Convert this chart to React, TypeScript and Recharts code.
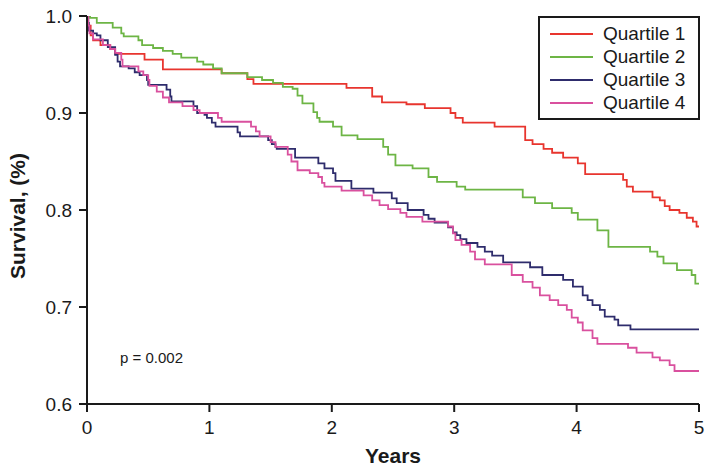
import { LineChart, Line, XAxis, YAxis, Legend } from "recharts";

// Kaplan-Meier steps: [years, survival]
const quartile1: [number, number][] = [
  [0, 1.0], [0.01, 0.99], [0.03, 0.98], [0.05, 0.975], [0.11, 0.97], [0.19, 0.966],
  [0.23, 0.961], [0.47, 0.955], [0.62, 0.945], [1.1, 0.941], [1.31, 0.935], [1.36, 0.93],
  [2.12, 0.926], [2.33, 0.917], [2.41, 0.911], [2.61, 0.909], [2.76, 0.905], [2.97, 0.9],
  [3.01, 0.895], [3.07, 0.89], [3.33, 0.886], [3.58, 0.872], [3.64, 0.868], [3.73, 0.863],
  [3.8, 0.859], [3.89, 0.854], [4.01, 0.848], [4.07, 0.837], [4.38, 0.831], [4.41, 0.824],
  [4.46, 0.819], [4.62, 0.813], [4.68, 0.81], [4.72, 0.804], [4.76, 0.8], [4.84, 0.797],
  [4.9, 0.792], [4.95, 0.788], [4.98, 0.783], [5, 0.783],
];

const quartile2: [number, number][] = [
  [0, 1.0], [0.025, 0.998], [0.08, 0.993], [0.21, 0.988], [0.28, 0.982], [0.3, 0.979],
  [0.42, 0.975], [0.45, 0.97], [0.54, 0.967], [0.62, 0.964], [0.7, 0.961], [0.77, 0.957],
  [0.9, 0.953], [0.95, 0.95], [1.03, 0.946], [1.1, 0.941], [1.31, 0.937], [1.43, 0.934],
  [1.52, 0.931], [1.6, 0.927], [1.68, 0.925], [1.72, 0.918], [1.76, 0.91], [1.85, 0.901],
  [1.88, 0.895], [1.9, 0.891], [2.01, 0.886], [2.08, 0.877], [2.21, 0.873], [2.42, 0.865],
  [2.46, 0.857], [2.52, 0.846], [2.66, 0.843], [2.79, 0.834], [2.86, 0.829], [3.02, 0.824],
  [3.09, 0.821], [3.56, 0.813], [3.66, 0.807], [3.8, 0.802], [3.96, 0.797], [4.01, 0.79],
  [4.17, 0.779], [4.26, 0.762], [4.6, 0.757], [4.66, 0.752], [4.71, 0.745], [4.82, 0.738],
  [4.94, 0.733], [4.97, 0.724], [5, 0.724],
];

const quartile3: [number, number][] = [
  [0, 1.0], [0.01, 0.993], [0.015, 0.985], [0.05, 0.982], [0.08, 0.98], [0.11, 0.975],
  [0.17, 0.968], [0.23, 0.96], [0.25, 0.953], [0.27, 0.948], [0.34, 0.946], [0.39, 0.942],
  [0.43, 0.939], [0.49, 0.934], [0.5, 0.929], [0.65, 0.924], [0.68, 0.917], [0.69, 0.912],
  [0.87, 0.907], [0.9, 0.9], [0.96, 0.898], [0.98, 0.895], [1.02, 0.89], [1.05, 0.886],
  [1.23, 0.88], [1.25, 0.876], [1.48, 0.872], [1.51, 0.868], [1.54, 0.865], [1.55, 0.863],
  [1.7, 0.854], [1.89, 0.848], [1.94, 0.843], [2.01, 0.838], [2.03, 0.83], [2.16, 0.822],
  [2.34, 0.818], [2.49, 0.812], [2.53, 0.807], [2.62, 0.8], [2.75, 0.795], [2.79, 0.791],
  [2.84, 0.787], [2.95, 0.782], [2.99, 0.777], [3.02, 0.774], [3.05, 0.77], [3.1, 0.766],
  [3.19, 0.762], [3.25, 0.757], [3.31, 0.753], [3.4, 0.746], [3.62, 0.741], [3.72, 0.733],
  [3.89, 0.728], [3.97, 0.721], [4.05, 0.712], [4.09, 0.707], [4.13, 0.702], [4.19, 0.697],
  [4.23, 0.69], [4.31, 0.687], [4.34, 0.681], [4.44, 0.677], [5, 0.677],
];

const quartile4: [number, number][] = [
  [0, 1.0], [0.01, 0.99], [0.02, 0.982], [0.05, 0.976], [0.13, 0.97], [0.19, 0.966],
  [0.23, 0.962], [0.28, 0.955], [0.29, 0.948], [0.42, 0.943], [0.46, 0.939], [0.5, 0.934],
  [0.51, 0.928], [0.57, 0.922], [0.62, 0.916], [0.67, 0.911], [0.78, 0.907], [0.87, 0.903],
  [0.92, 0.9], [1.07, 0.895], [1.1, 0.891], [1.34, 0.886], [1.38, 0.881], [1.41, 0.876],
  [1.5, 0.87], [1.54, 0.865], [1.64, 0.857], [1.67, 0.85], [1.72, 0.841], [1.82, 0.838],
  [1.89, 0.834], [1.92, 0.828], [1.94, 0.824], [2.08, 0.82], [2.26, 0.815], [2.33, 0.81],
  [2.39, 0.805], [2.46, 0.801], [2.56, 0.797], [2.61, 0.793], [2.74, 0.788], [2.95, 0.783],
  [2.99, 0.776], [3.01, 0.769], [3.06, 0.764], [3.13, 0.757], [3.17, 0.749], [3.25, 0.744],
  [3.47, 0.733], [3.56, 0.726], [3.64, 0.72], [3.7, 0.712], [3.78, 0.707], [3.85, 0.702],
  [3.92, 0.697], [3.96, 0.689], [4.01, 0.684], [4.05, 0.676], [4.13, 0.668], [4.17, 0.662],
  [4.42, 0.658], [4.49, 0.653], [4.62, 0.648], [4.68, 0.645], [4.76, 0.64], [4.8, 0.634],
  [5, 0.634],
];

const seriesNames = ["Quartile 1", "Quartile 2", "Quartile 3", "Quartile 4"];
const seriesColors = ["#e8352e", "#6db545", "#2e2c6c", "#d9509e"];
const xTicks = [0, 1, 2, 3, 4, 5];
const yTicks = [0.6, 0.7, 0.8, 0.9, 1.0];

const allSeries = [quartile1, quartile2, quartile3, quartile4].map((pts, i) => ({
  name: seriesNames[i],
  color: seriesColors[i],
  data: pts.map(([t, s]) => ({ t, s })),
}));

const FONT = "'Liberation Sans', Arial, sans-serif";
const INK = "#1a1a1a";

const LegendBox = () => (
  <div
    style={{
      border: `2px solid ${INK}`,
      padding: "4px 8px 4px 10px",
      background: "#fff",
      fontFamily: FONT,
      fontSize: 19,
      color: INK,
      boxSizing: "border-box",
      width: 162,
    }}
  >
    {allSeries.map((s) => (
      <div key={s.name} style={{ display: "flex", alignItems: "center", height: 23 }}>
        <span style={{ display: "inline-block", width: 43, height: 2, background: s.color, marginRight: 10 }} />
        <span style={{ lineHeight: "23px" }}>{s.name}</span>
      </div>
    ))}
  </div>
);

const YTitle = () => (
  <text
    x={17}
    y={216}
    transform="rotate(-90 17 216)"
    textAnchor="middle"
    dominantBaseline="central"
    style={{ fill: INK, fontSize: 21, fontWeight: 700, fontFamily: FONT }}
  >
    Survival, (%)
  </text>
);

const App = () => {
  return (
    <div style={{ position: "absolute", left: 0, top: 0, width: 714, height: 471, background: "#fff" }}>
      <LineChart width={714} height={471} margin={{ top: 16, right: 15, left: 0, bottom: 0 }}>
        <XAxis
          type="number"
          dataKey="t"
          domain={[0, 5]}
          ticks={xTicks}
          allowDataOverflow
          height={67}
          tickSize={8}
          tickMargin={9}
          axisLine={{ stroke: INK, strokeWidth: 2 }}
          tickLine={{ stroke: INK, strokeWidth: 2 }}
          tick={{ fill: INK, fontSize: 19, fontFamily: FONT }}
          label={{
            value: "Years",
            position: "insideBottom",
            offset: 8,
            style: { fill: INK, fontSize: 21, fontWeight: 700, fontFamily: FONT },
          }}
        />
        <YAxis
          type="number"
          dataKey="s"
          domain={[0.6, 1.0]}
          ticks={yTicks}
          allowDataOverflow
          width={87}
          tickSize={8}
          tickMargin={7}
          tickFormatter={(v: number) => v.toFixed(1)}
          axisLine={{ stroke: INK, strokeWidth: 2 }}
          tickLine={{ stroke: INK, strokeWidth: 2 }}
          tick={{ fill: INK, fontSize: 19, fontFamily: FONT }}
          label={{ content: () => <YTitle /> }}
        />
        <Legend
          layout="horizontal"
          align="center"
          verticalAlign="middle"
          wrapperStyle={{ left: 538, top: 16, width: 162 }}
          content={() => <LegendBox />}
        />
        {allSeries.map((s) => (
          <Line
            key={s.name}
            data={s.data}
            dataKey="s"
            name={s.name}
            type="stepAfter"
            stroke={s.color}
            strokeWidth={1.8}
            dot={false}
            activeDot={false}
            isAnimationActive={false}
          />
        ))}
      </LineChart>
      <div
        style={{
          position: "absolute",
          left: 120,
          top: 349,
          fontFamily: FONT,
          fontSize: 15,
          color: INK,
          lineHeight: "18px",
        }}
      >
        p = 0.002
      </div>
    </div>
  );
};

export default App;
